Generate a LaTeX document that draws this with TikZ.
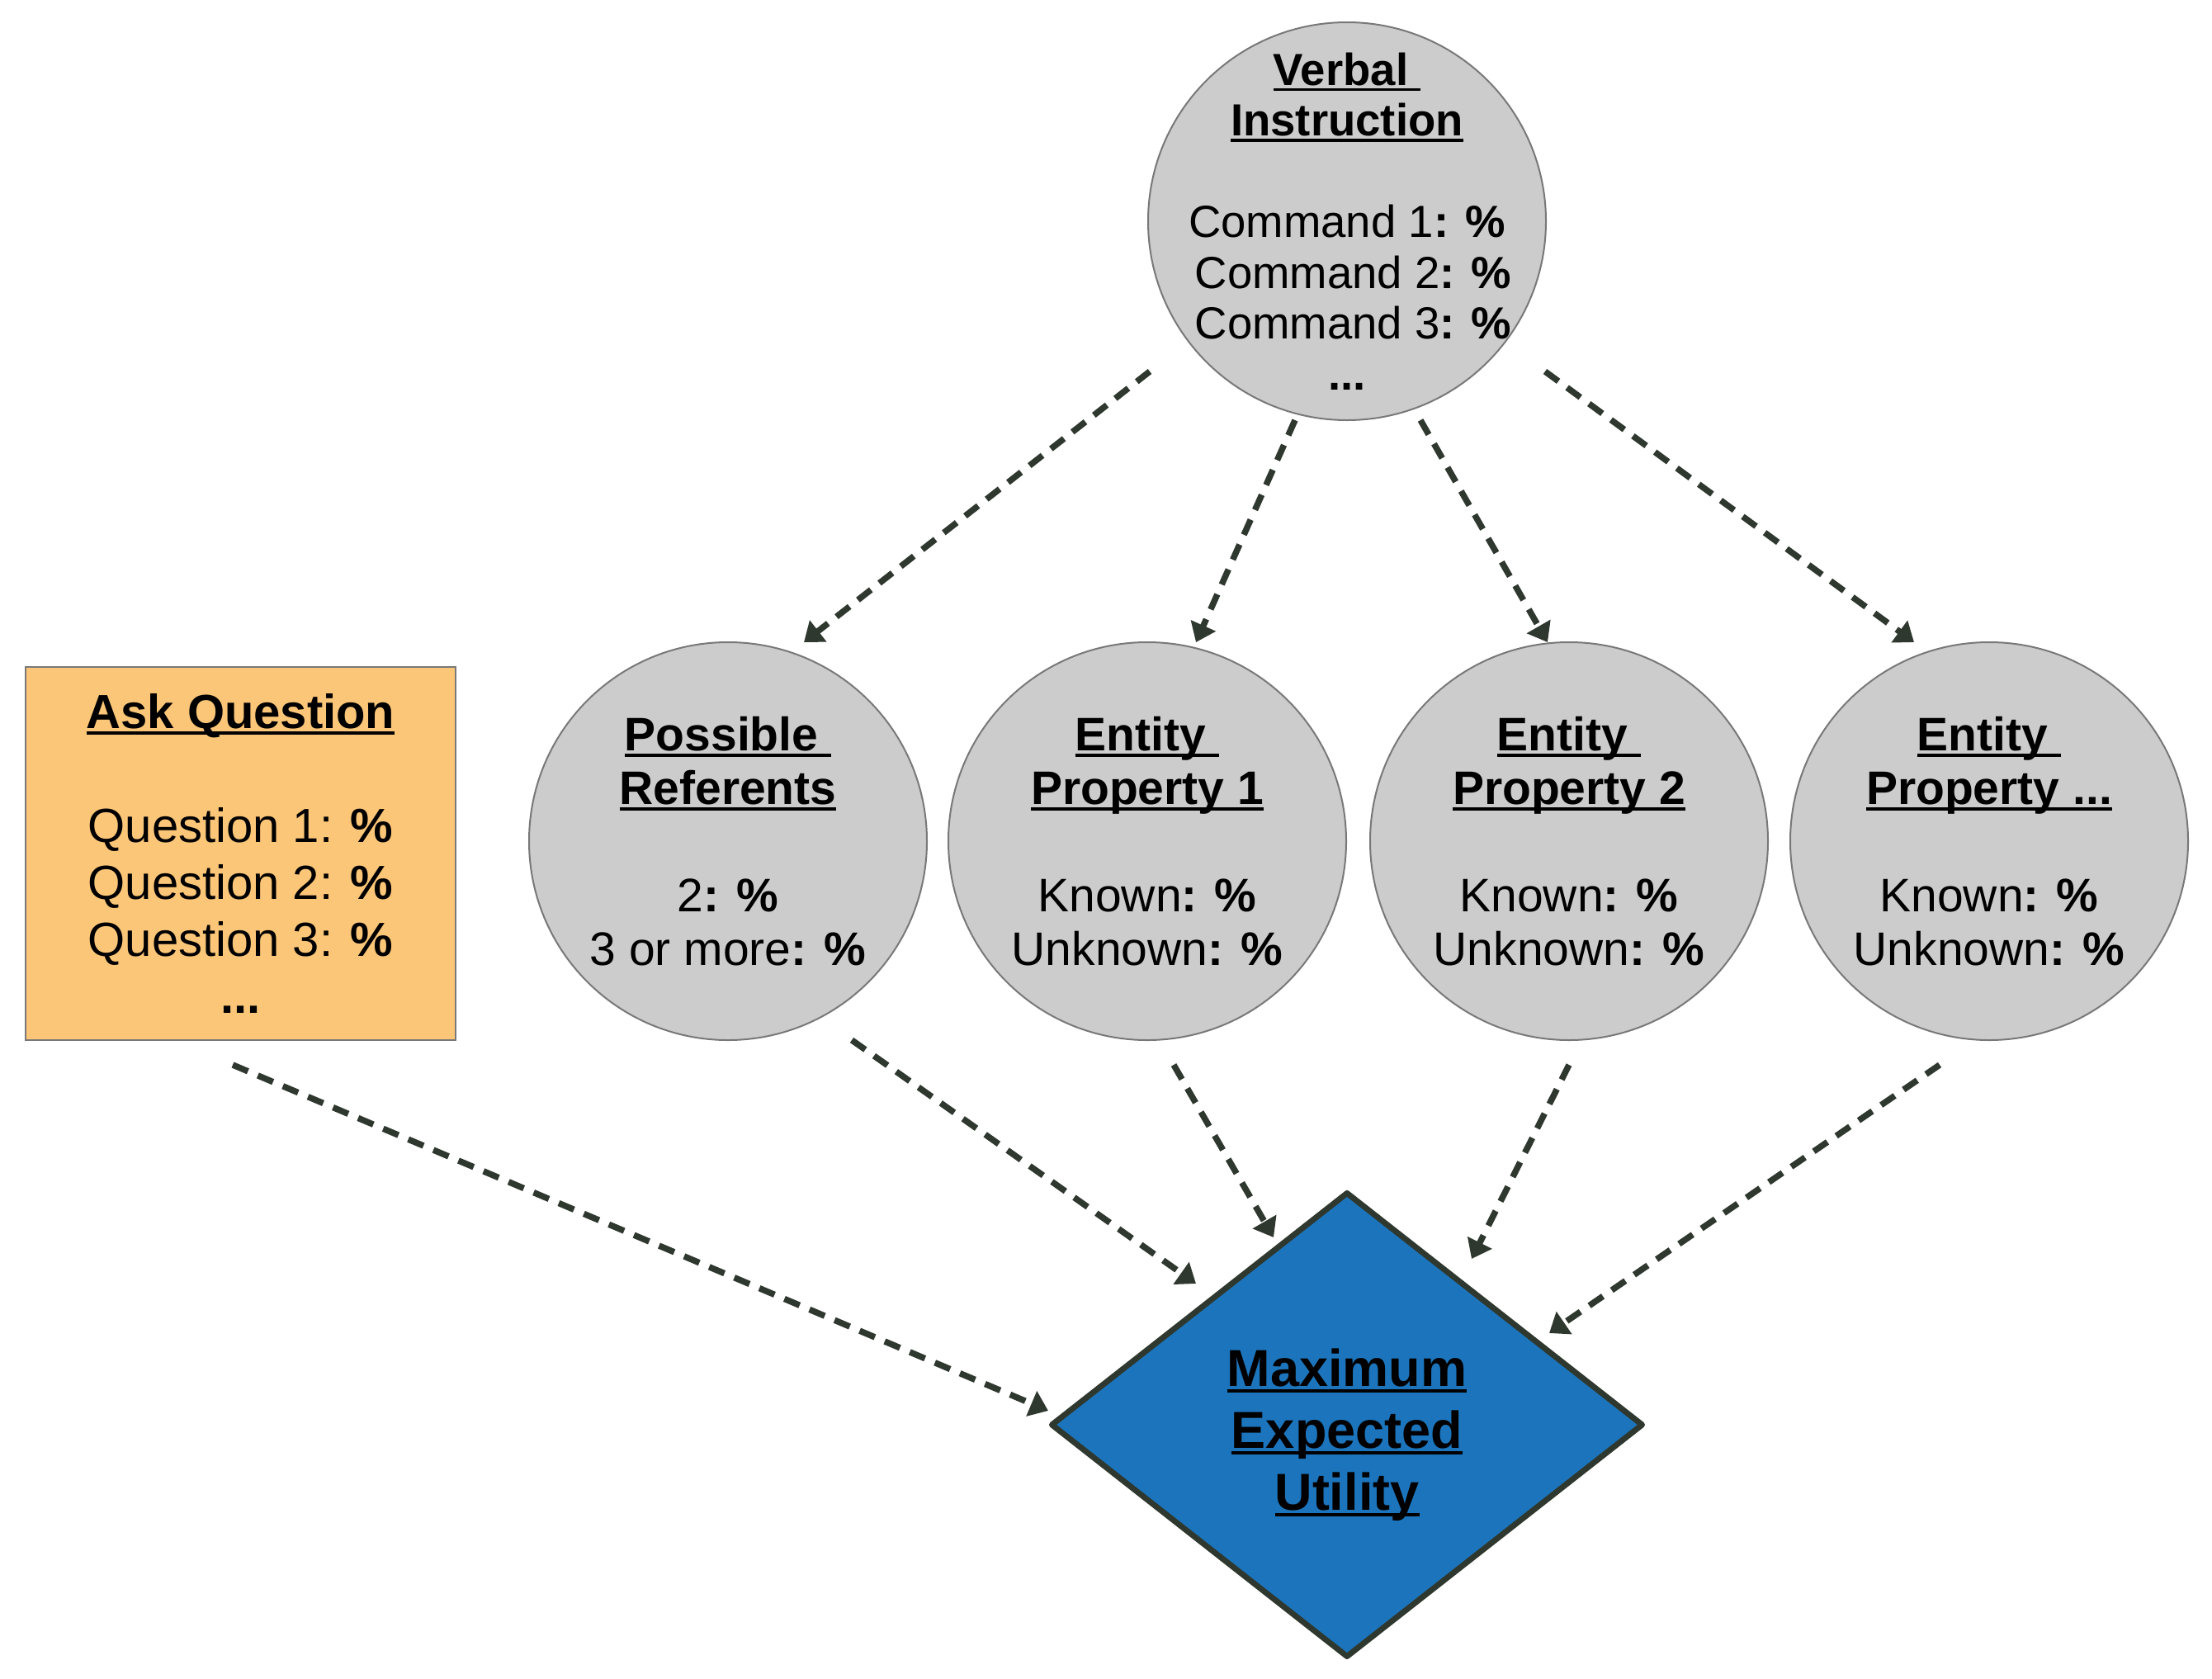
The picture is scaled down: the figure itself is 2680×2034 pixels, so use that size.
\documentclass[tikz,border=0pt]{standalone}
\usepackage{fontspec}
\setmainfont{Liberation Sans}
\usetikzlibrary{arrows.meta,shapes.geometric,calc}
\definecolor{arrc}{RGB}{47,56,47}
\definecolor{circfill}{RGB}{204,204,204}
\definecolor{circline}{RGB}{120,120,120}
\definecolor{boxfill}{RGB}{252,198,120}
\definecolor{diafill}{RGB}{28,117,188}
\newcommand\uln[1]{\setbox0\hbox{#1}\rlap{\rule[-0.125em]{\wd0}{0.06em}}\box0}
\newcommand\fsTop{\fontsize{54.5pt}{61.5pt}\selectfont}
\newcommand\fsMid{\fontsize{57pt}{65pt}\selectfont}
\newcommand\fsBox{\fontsize{58pt}{69pt}\selectfont}
\newcommand\fsDia{\fontsize{63pt}{75pt}\selectfont}
\tikzset{
  circ/.style={circle, draw=circline, line width=2pt, fill=circfill, minimum size=482pt, inner sep=0pt},
  txt/.style={align=center, inner sep=0pt},
  qbox/.style={rectangle, draw=circline, line width=2pt, fill=boxfill, minimum width=521pt, minimum height=452pt, inner sep=0pt},
  dia/.style={diamond, draw=arrc, line width=7pt, line join=round, fill=diafill, minimum width=718pt, minimum height=564pt, inner sep=0pt},
  arr/.style={draw=arrc, line width=7.5pt, dash pattern=on 20pt off 13pt, -{Triangle[length=22pt,width=32pt]}}
}
\begin{document}
\begin{tikzpicture}[x=1pt,y=-1pt]
\useasboundingbox (0,0) rectangle (2680,2034);
% nodes
\node[circ] (top) at (1632,268) {};
\node[txt, font=\fsTop] (topT) at (top) {\textbf{\uln{Verbal\ }}\\\textbf{\uln{Instruction}}\\[61.5pt]Command 1\textbf{: \%}\\\ Command 2\textbf{: \%}\\\ Command 3\textbf{: \%}\\\textbf{...}};

\node[circ] (ref) at (882,1019) {};
\node[txt, font=\fsMid] (refT) at (ref) {\textbf{\uln{Possible\ }}\\\textbf{\uln{Referents}}\\[65pt]2\textbf{: \%}\\3 or more\textbf{: \%}};

\node[circ] (ep1) at (1390,1019) {};
\node[txt, font=\fsMid] (ep1T) at (ep1) {\textbf{\uln{Entity\ }}\\\textbf{\uln{Property 1}}\\[65pt]Known\textbf{: \%}\\Unknown\textbf{: \%}};

\node[circ] (ep2) at (1901,1019) {};
\node[txt, font=\fsMid] (ep2T) at (ep2) {\textbf{\uln{Entity\ }}\\\textbf{\uln{Property 2}}\\[65pt]Known\textbf{: \%}\\Unknown\textbf{: \%}};

\node[circ] (ep3) at (2410,1019) {};
\node[txt, font=\fsMid] (ep3T) at (ep3) {\textbf{\uln{Entity\ }}\\\textbf{\uln{Property ...}}\\[65pt]Known\textbf{: \%}\\Unknown\textbf{: \%}};

\node[qbox] (ask) at (291.5,1034) {};
\node[txt, font=\fsBox] (askT) at (ask) {\textbf{\uln{Ask Question}}\\[69pt]Question 1: \textbf{\%}\\Question 2: \textbf{\%}\\Question 3: \textbf{\%}\\\textbf{...}};

\node[dia] (meu) at (1632,1726) {};
\node[txt, font=\fsDia] (meuT) at ($(meu)+(0,12)$) {\textbf{\uln{Maximum}}\\\textbf{\uln{Expected}}\\\textbf{\uln{Utility}}};

% connector end points
\coordinate (s1) at ($(top)+(-239,182)$);  \coordinate (e1) at ($(ref)+(92,-241)$);
\coordinate (s2) at ($(top)+(-63,241)$);   \coordinate (e2) at ($(ep1)+(59,-241)$);
\coordinate (s3) at ($(top)+(89,241)$);    \coordinate (e3) at ($(ep2)+(-26,-241)$);
\coordinate (s4) at ($(top)+(240,182)$);   \coordinate (e4) at ($(ep3)+(-91,-241)$);
\coordinate (s5) at ($(ask)+(-9.5,256)$);  \coordinate (e5) at ($(meu)+(-362,-17)$);
\coordinate (s6) at ($(ref)+(150,241)$);   \coordinate (e6) at ($(meu)+(-183,-171)$);
\coordinate (s7) at ($(ep1)+(32,271)$);    \coordinate (e7) at ($(meu)+(-89,-227)$);
\coordinate (s8) at ($(ep2)+(0,271)$);     \coordinate (e8) at ($(meu)+(151,-201)$);
\coordinate (s9) at ($(ep3)+(-60,271)$);   \coordinate (e9) at ($(meu)+(245,-111)$);

\foreach \i in {1,...,9} {\draw[arr] (s\i) -- (e\i);}
\end{tikzpicture}
\end{document}
